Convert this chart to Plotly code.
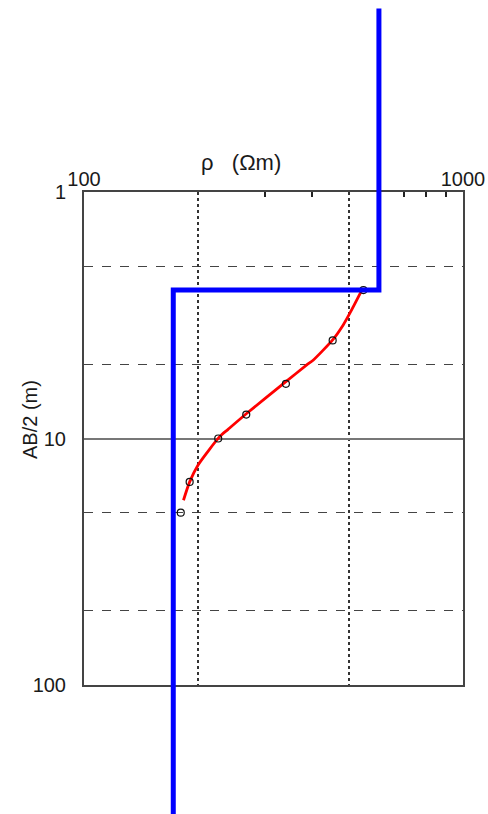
import plotly.graph_objects as go

# Apparent resistivity sounding: AB/2 (m) vs rho (ohm-m)
obs_rho = [546, 453, 341, 268, 226, 190, 180]
obs_ab = [2.5, 4.0, 6.0, 8.0, 10.0, 15.0, 20.0]

fit_rho = [541, 503, 483, 453, 403, 387, 341, 269, 240, 228, 200, 190, 183]
fit_ab = [2.5, 3.1, 3.46, 3.98, 4.8, 5.03, 5.88, 7.9, 9.18, 9.83, 12.8, 15.0, 17.8]

# Two-layer model: resistivities and layer boundaries (top, interface, bottom)
model_rho = [600, 172]
model_depth = [0.18, 2.5, 1000]

# Axis ticks
x_label_vals = [100, 200, 500, 1000]
x_label_text = ["100", "", "", "1000"]
x_minor_vals = [300, 400, 600, 700, 800, 900]
y_label_vals = [1, 10, 100]
y_label_text = ["1", "10", "100"]
y_dash_vals = [2, 5, 20, 50]
y_minor_vals = [3, 4, 6, 7, 8, 9, 30, 40, 60, 70, 80, 90]

W, H = 488, 814
xdom = [84 / W, 463 / W]
ydom = [1 - 685 / H, 1 - 192 / H]
xr = [2, 3]
yr = [2, 0]

# Full-page axes sharing the same log scale, so the model line can run past the frame
kx = (xr[1] - xr[0]) / (xdom[1] - xdom[0])
ky = (yr[0] - yr[1]) / (ydom[1] - ydom[0])
x2r = [xr[0] - xdom[0] * kx, xr[1] + (1 - xdom[1]) * kx]
y2r = [yr[0] + ydom[0] * ky, yr[1] - (1 - ydom[1]) * ky]

mx, my = [], []
for i, r in enumerate(model_rho):
    mx += [r, r]
    my += [model_depth[i], model_depth[i + 1]]

font = "Liberation Sans, Arial, sans-serif"

fig = go.Figure()
fig.add_trace(go.Scatter(x=fit_rho, y=fit_ab, mode="lines",
                         line=dict(color="#ff0000", width=2.8, shape="spline",
                                   smoothing=0.6),
                         xaxis="x", yaxis="y"))
fig.add_trace(go.Scatter(x=obs_rho, y=obs_ab, mode="markers",
                         marker=dict(symbol="circle-open", size=7, color="#111",
                                     line=dict(width=1.2)),
                         xaxis="x", yaxis="y"))
fig.add_trace(go.Scatter(x=mx, y=my, mode="lines",
                         line=dict(color="#0000ff", width=5),
                         xaxis="x2", yaxis="y2"))

fig.update_layout(
    template="none",
    width=W, height=H,
    margin=dict(l=0, r=0, t=0, b=0, pad=0, autoexpand=False),
    paper_bgcolor="white",
    plot_bgcolor="rgba(0,0,0,0)",
    showlegend=False,
    font=dict(family=font, color="#1a1a1a", size=20),
    xaxis=dict(
        type="log", range=xr, domain=xdom, anchor="y", side="top",
        automargin=False,
        tickmode="array", tickvals=x_label_vals, ticktext=x_label_text,
        ticks="", ticklabelstandoff=-4,
        showgrid=True, gridcolor="#333", griddash="dot", gridwidth=1.5,
        showline=True, linecolor="#444", linewidth=2, mirror=True,
        zeroline=False,
        minor=dict(tickmode="array", tickvals=x_minor_vals, ticks="inside",
                   ticklen=5, tickcolor="#222", tickwidth=1.5, showgrid=False),
    ),
    yaxis=dict(
        type="log", range=yr, domain=ydom, anchor="x",
        automargin=False,
        tickmode="array", tickvals=y_label_vals, ticktext=y_label_text,
        ticks="", ticklabelstandoff=12,
        showgrid=True, gridcolor="#777", gridwidth=1.5,
        showline=True, linecolor="#444", linewidth=2, mirror=True,
        zeroline=False,
        minor=dict(tickmode="array", tickvals=y_dash_vals, ticks="",
                   showgrid=True, gridcolor="#444", griddash="dash",
                   gridwidth=1.3),
    ),
    yaxis3=dict(
        type="log", range=yr, overlaying="y", anchor="x", side="left",
        automargin=False,
        tickmode="array", tickvals=y_minor_vals, ticks="inside",
        ticklen=7, tickcolor="#222", tickwidth=1.5,
        showticklabels=False, showgrid=False, showline=False, zeroline=False,
    ),
    xaxis2=dict(type="log", range=x2r, domain=[0, 1], anchor="y2",
                visible=False, automargin=False),
    yaxis2=dict(type="log", range=y2r, domain=[0, 1], anchor="x2",
                visible=False, automargin=False),
    annotations=[
        dict(text="\u03c1   (\u03a9m)", xref="paper", yref="paper",
             x=241 / W, y=1 - 163 / H, xanchor="center", yanchor="middle",
             showarrow=False, font=dict(size=22, family=font, color="#1a1a1a")),
        dict(text="AB/2 (m)", xref="paper", yref="paper",
             x=30 / W, y=1 - 420 / H, xanchor="center", yanchor="middle",
             showarrow=False, textangle=-90,
             font=dict(size=20, family=font, color="#1a1a1a")),
    ],
)

fig.write_html("out.html")
